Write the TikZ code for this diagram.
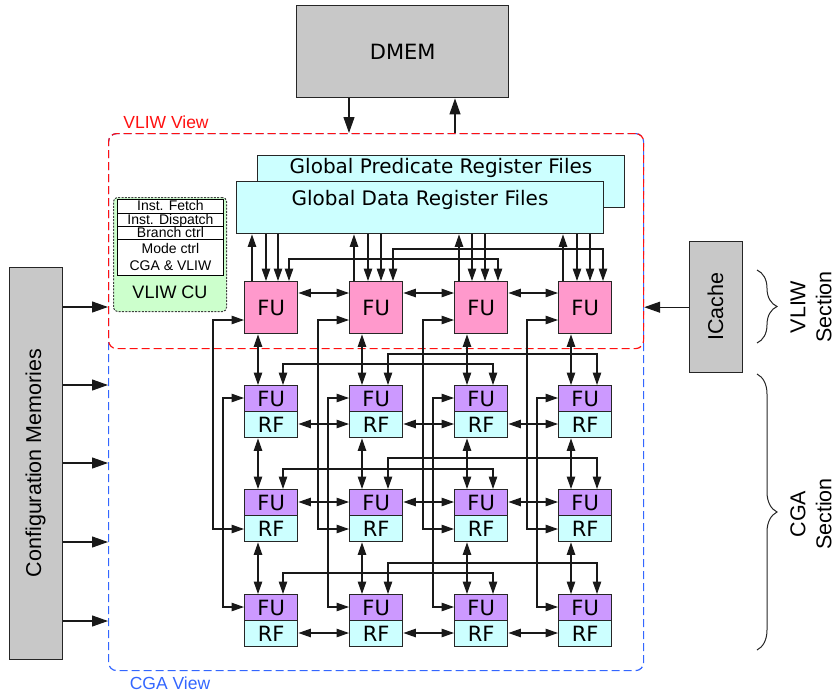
\documentclass[tikz,border=0pt]{standalone}
\usepackage{fontspec}
\usetikzlibrary{arrows.meta,decorations.pathreplacing}
\newfontfamily\dvfont{DejaVu Sans}
\newfontfamily\libfont{Liberation Sans}
\definecolor{fupink}{HTML}{FF99CC}
\definecolor{fupurp}{HTML}{CC99FF}
\definecolor{rfcyan}{HTML}{CCFFFF}
\definecolor{cugreen}{HTML}{CCFFCC}
\definecolor{memgray}{HTML}{C8C8C8}
\definecolor{vred}{HTML}{FF1010}
\definecolor{cblue}{HTML}{3366FF}
\begin{document}
\begin{tikzpicture}[x=1pt,y=-1pt,
  bx/.style={draw=black!85, line width=1.4pt, inner sep=0pt, anchor=north west},
  gbox/.style={bx, fill=memgray},
  fuv/.style={bx, fill=fupink, minimum width=53pt, minimum height=52pt, font=\dvfont\fontsize{21}{24}\selectfont},
  cfu/.style={bx, fill=fupurp, minimum width=53pt, minimum height=26pt, font=\dvfont\fontsize{21}{24}\selectfont},
  crf/.style={bx, fill=rfcyan, minimum width=53pt, minimum height=26pt, font=\dvfont\fontsize{21}{24}\selectfont},
  cellbase/.style={draw=black, line width=0.9pt, fill=white, inner sep=0pt, anchor=north west, minimum width=106pt, font=\libfont\fontsize{14}{17}\selectfont},
  cell/.style={cellbase, text height=10.5pt, text depth=2pt},
  lbl/.style={inner sep=0pt, font=\libfont\fontsize{21.5}{26}\selectfont},
  tip/.tip={Triangle[length=12.5pt,width=8.5pt]},
  bigtip/.tip={Triangle[length=16pt,width=11pt]},
  arr/.style={line width=1.15pt, draw=black!90, -tip},
  barr/.style={line width=1.15pt, draw=black!90, -bigtip},
  darr/.style={line width=1.15pt, draw=black!90, tip-tip},
  viewbox/.style={line width=1.2pt, dash pattern=on 8pt off 4pt, rounded corners=8pt, inner sep=0pt, anchor=north west, minimum width=535pt}
]
\useasboundingbox (0,0) rectangle (836,697);

% views
\node[viewbox, draw=cblue, minimum height=537pt] (cga) at (108,133) {};
\node[viewbox, draw=vred, minimum height=215pt] (vliw) at (108,133) {};
\node[text=vred, inner sep=0pt, font=\libfont\fontsize{17.5}{20}\selectfont] (vlab) at (166,122) {VLIW View};
\node[text=cblue, inner sep=0pt, font=\libfont\fontsize{17.5}{20}\selectfont] (clab) at (170,683) {CGA View};

% DMEM
\node[gbox, minimum width=212pt, minimum height=92pt, font=\dvfont\fontsize{21}{24}\selectfont] (dm) at (296,5) {DMEM};

% global register files
\node[bx, fill=rfcyan, minimum width=367pt, minimum height=52pt] (gp) at (257,155) {};
\node[inner sep=0pt, font=\dvfont\fontsize{20}{24}\selectfont] (gpt) at (441,168) {Global Predicate Register Files};
\node[bx, fill=rfcyan, minimum width=367pt, minimum height=52pt] (gd) at (236,181) {};
\node[inner sep=0pt, font=\dvfont\fontsize{20}{24}\selectfont] (gdt) at (420,200) {Global Data Register Files};

% VLIW CU
\node[draw=black!75, line width=1pt, dash pattern=on 2pt off 1.3pt, fill=cugreen, rounded corners=4pt, inner sep=0pt, anchor=north west, minimum width=113pt, minimum height=114pt] (cu) at (113,197) {};
\node[cell, minimum height=14pt] (c1) at (117,199) {Inst. Fetch};
\node[cell, minimum height=13pt] (c2) at (117,213) {Inst. Dispatch};
\node[cell, minimum height=13pt] (c3) at (117,226) {Branch ctrl};
\node[cellbase, minimum height=36pt, align=center] (c4) at (117,239) {Mode ctrl\\CGA \& VLIW};
\node[inner sep=0pt, font=\libfont\fontsize{18}{20}\selectfont] (cul) at (170,292) {VLIW CU};

% FUs
\foreach \i/\x in {1/244,2/349,3/454,4/558}{
  \node[fuv] (v\i) at (\x,281) {FU};
  \node[cfu] (a\i) at (\x,385) {FU};
  \node[crf] (ar\i) at (\x,411) {RF};
  \node[cfu] (b\i) at (\x,489) {FU};
  \node[crf] (br\i) at (\x,515) {RF};
  \node[cfu] (c\i) at (\x,594) {FU};
  \node[crf] (cr\i) at (\x,620) {RF};
}

% global RF <-> VLIW FUs
\foreach \i/\u/\d/\e in {1/252/266/278,2/354/368/381,3/459/472/485,4/563/577/590}{
  \draw[arr] (\u,0 |- v\i.north) -- (\u,0 |- gd.south);
  \draw[arr] (\d,0 |- gd.south) -- (\d,0 |- v\i.north);
  \draw[arr] (\e,0 |- gd.south) -- (\e,0 |- v\i.north);
}

% horizontal neighbour links
\foreach \a/\b in {1/2,2/3,3/4}{
  \draw[darr] (v\a.east |- 0,293) -- (v\b.west |- 0,293);
  \draw[darr] (ar\a.east |- 0,424) -- (ar\b.west |- 0,424);
  \draw[darr] (b\a.east |- 0,502) -- (b\b.west |- 0,502);
  \draw[darr] (cr\a.east |- 0,633) -- (cr\b.west |- 0,633);
}

% vertical neighbour links
\foreach \i/\x in {1/258,2/362,3/467,4/571}{
  \draw[darr] (\x,0 |- v\i.south) -- (\x,0 |- a\i.north);
  \draw[darr] (\x,0 |- ar\i.south) -- (\x,0 |- b\i.north);
  \draw[darr] (\x,0 |- br\i.south) -- (\x,0 |- c\i.north);
}

% long vertical links
\foreach \i/\p/\q in {1/213/223,2/318/328,3/423/433,4/527/537}{
  \draw[darr] (v\i.west |- 0,320) -- (\p,320) -- (\p,529) -- (br\i.west |- 0,529);
  \draw[darr] (a\i.west |- 0,398) -- (\q,398) -- (\q,607) -- (c\i.west |- 0,607);
}

% routing over the rows
\draw[darr] (289,0 |- v1.north) -- (289,259) -- (498,259) -- (498,0 |- v3.north);
\draw[darr] (393,0 |- v2.north) -- (393,249) -- (603,249) -- (603,0 |- v4.north);
\draw[darr] (283,0 |- a1.north) -- (283,364) -- (493,364) -- (493,0 |- a3.north);
\draw[darr] (388,0 |- a2.north) -- (388,354) -- (597,354) -- (597,0 |- a4.north);
\draw[darr] (283,0 |- b1.north) -- (283,469) -- (493,469) -- (493,0 |- b3.north);
\draw[darr] (388,0 |- b2.north) -- (388,458) -- (597,458) -- (597,0 |- b4.north);
\draw[darr] (283,0 |- c1.north) -- (283,573) -- (493,573) -- (493,0 |- c3.north);
\draw[darr] (388,0 |- c2.north) -- (388,563) -- (597,563) -- (597,0 |- c4.north);

% DMEM arrows
\draw[barr] (349,0 |- dm.south) -- (349,0 |- cga.north);
\draw[barr] (455,0 |- cga.north) -- (455,0 |- dm.south);

% Configuration memories
\node[gbox, minimum width=53pt, minimum height=392pt] (cm) at (9,267) {};
\node[lbl, rotate=90] (cmt) at (35.5,463) {Configuration Memories};
\foreach \y in {307,385,463,542,621}{
  \draw[barr] (cm.east |- 0,\y) -- (cga.west |- 0,\y);
}

% ICache
\node[gbox, minimum width=53pt, minimum height=131pt] (ic) at (689,241) {};
\node[lbl, rotate=90] (ict) at (715.5,306.5) {ICache};
\draw[barr] (ic.west) -- (cga.east |- ic.west);

% braces
\draw[decorate, decoration={brace, amplitude=20pt}, line width=1pt, black!85] (757,270) -- (757,343);
\draw[decorate, decoration={brace, amplitude=20pt}, line width=1pt, black!85] (757,374) -- (757,650);
\node[lbl, rotate=90, align=center] (vs) at (811,307) {VLIW\\Section};
\node[lbl, rotate=90, align=center] (cs) at (811,514) {CGA\\Section};
\end{tikzpicture}
\end{document}
